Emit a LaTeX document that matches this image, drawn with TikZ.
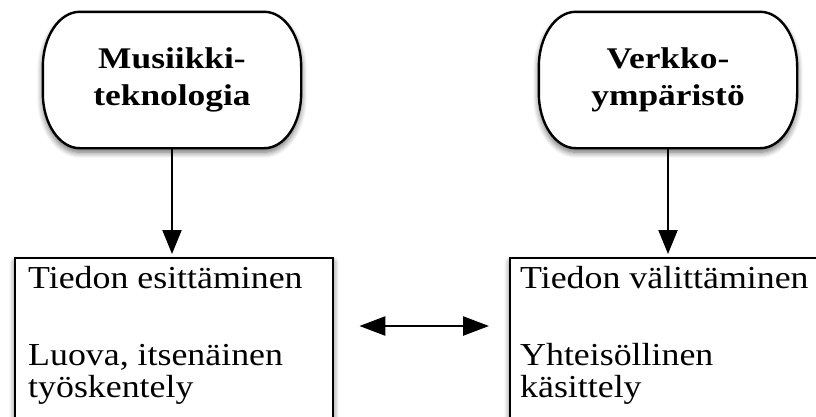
\documentclass[tikz,border=0pt]{standalone}
\usepackage{fontspec}
\setmainfont{Liberation Serif}[FakeStretch=1.12]
\newfontfamily\headfont{Liberation Serif}[FakeStretch=1.18]
\usetikzlibrary{arrows.meta,shadows.blur}

\tikzset{
  softshadow/.style={blur shadow={shadow xshift=0pt, shadow yshift=-4pt,
      shadow blur radius=6pt, shadow blur steps=8, shadow opacity=60}},
  topicbox/.style={minimum width=258pt, minimum height=136pt, inner sep=0pt},
  topicframe/.style={draw=black, line width=2.4pt, fill=white, softshadow},
  topictext/.style={align=center, inner sep=0pt,
      font=\headfont\bfseries\fontsize{30}{37}\selectfont},
  taskbox/.style={draw=black, line width=2.4pt, fill=white, anchor=north west,
      minimum height=200pt, inner sep=0pt, softshadow},
  boxtext/.style={anchor=base west, inner sep=0pt, font=\fontsize{32}{32}\selectfont},
  link/.style={draw=black, opacity=1, line width=2.2pt, -{Triangle[length=24pt, width=19pt, fill=black]}},
  duplex/.style={draw=black, opacity=1, line width=2.5pt,
      {Triangle[length=26pt, width=19pt, fill=black]}-{Triangle[length=26pt, width=19pt, fill=black]}},
}

% outline of a topic node: flat top and bottom, elliptical ends
\newcommand\drawtopicframe[1]{%
  \begin{scope}
  \draw[topicframe]
    ([xshift=37pt]#1.north west) -- ([xshift=-37pt]#1.north east)
    arc[start angle=90, end angle=0, x radius=37pt, y radius=55pt]
    -- ([yshift=55pt]#1.south east)
    arc[start angle=0, end angle=-90, x radius=37pt, y radius=55pt]
    -- ([xshift=37pt]#1.south west)
    arc[start angle=270, end angle=180, x radius=37pt, y radius=55pt]
    -- ([yshift=-55pt]#1.north west)
    arc[start angle=180, end angle=90, x radius=37pt, y radius=55pt]
    -- cycle;
  \end{scope}}

\begin{document}
\begin{tikzpicture}[x=1pt, y=-1pt]
  \useasboundingbox (0,0) rectangle (816,416);
  \clip (0,0) rectangle (816,416);

  % source topics
  \node[topicbox] (musi) at (172,80) {};
  \node[topicbox] (verk) at (668,80) {};
  \drawtopicframe{musi}
  \drawtopicframe{verk}
  \node[topictext] (musilabel) at (musi) {Musiikki-\\teknologia};
  \node[topictext] (verklabel) at (verk) {Verkko-\\ympäristö};

  % activity boxes (running off the lower edge)
  \node[taskbox, minimum width=318pt] (esit) at (14,257) {};
  \node[taskbox, minimum width=400pt] (valit) at (509,257) {};

  \node[boxtext] (e1) at (28,288) {Tiedon esittäminen};
  \node[boxtext] (e2) at (28,365) {Luova, itsenäinen};
  \node[boxtext] (e3) at (28,397) {työskentely};

  \node[boxtext] (v1) at (520,288) {Tiedon välittäminen};
  \node[boxtext] (v2) at (520,365) {Yhteisöllinen};
  \node[boxtext] (v3) at (520,397) {käsittely};

  % connectors
  \draw[link, shorten >=3pt] (musi.south) -- (musi.south |- esit.north);
  \draw[link, shorten >=3pt] (verk.south) -- (verk.south |- valit.north);
  \draw[duplex, shorten <=25pt, shorten >=20pt]
    (esit.north east |- 0,326) -- (valit.north west |- 0,326);
\end{tikzpicture}
\end{document}
